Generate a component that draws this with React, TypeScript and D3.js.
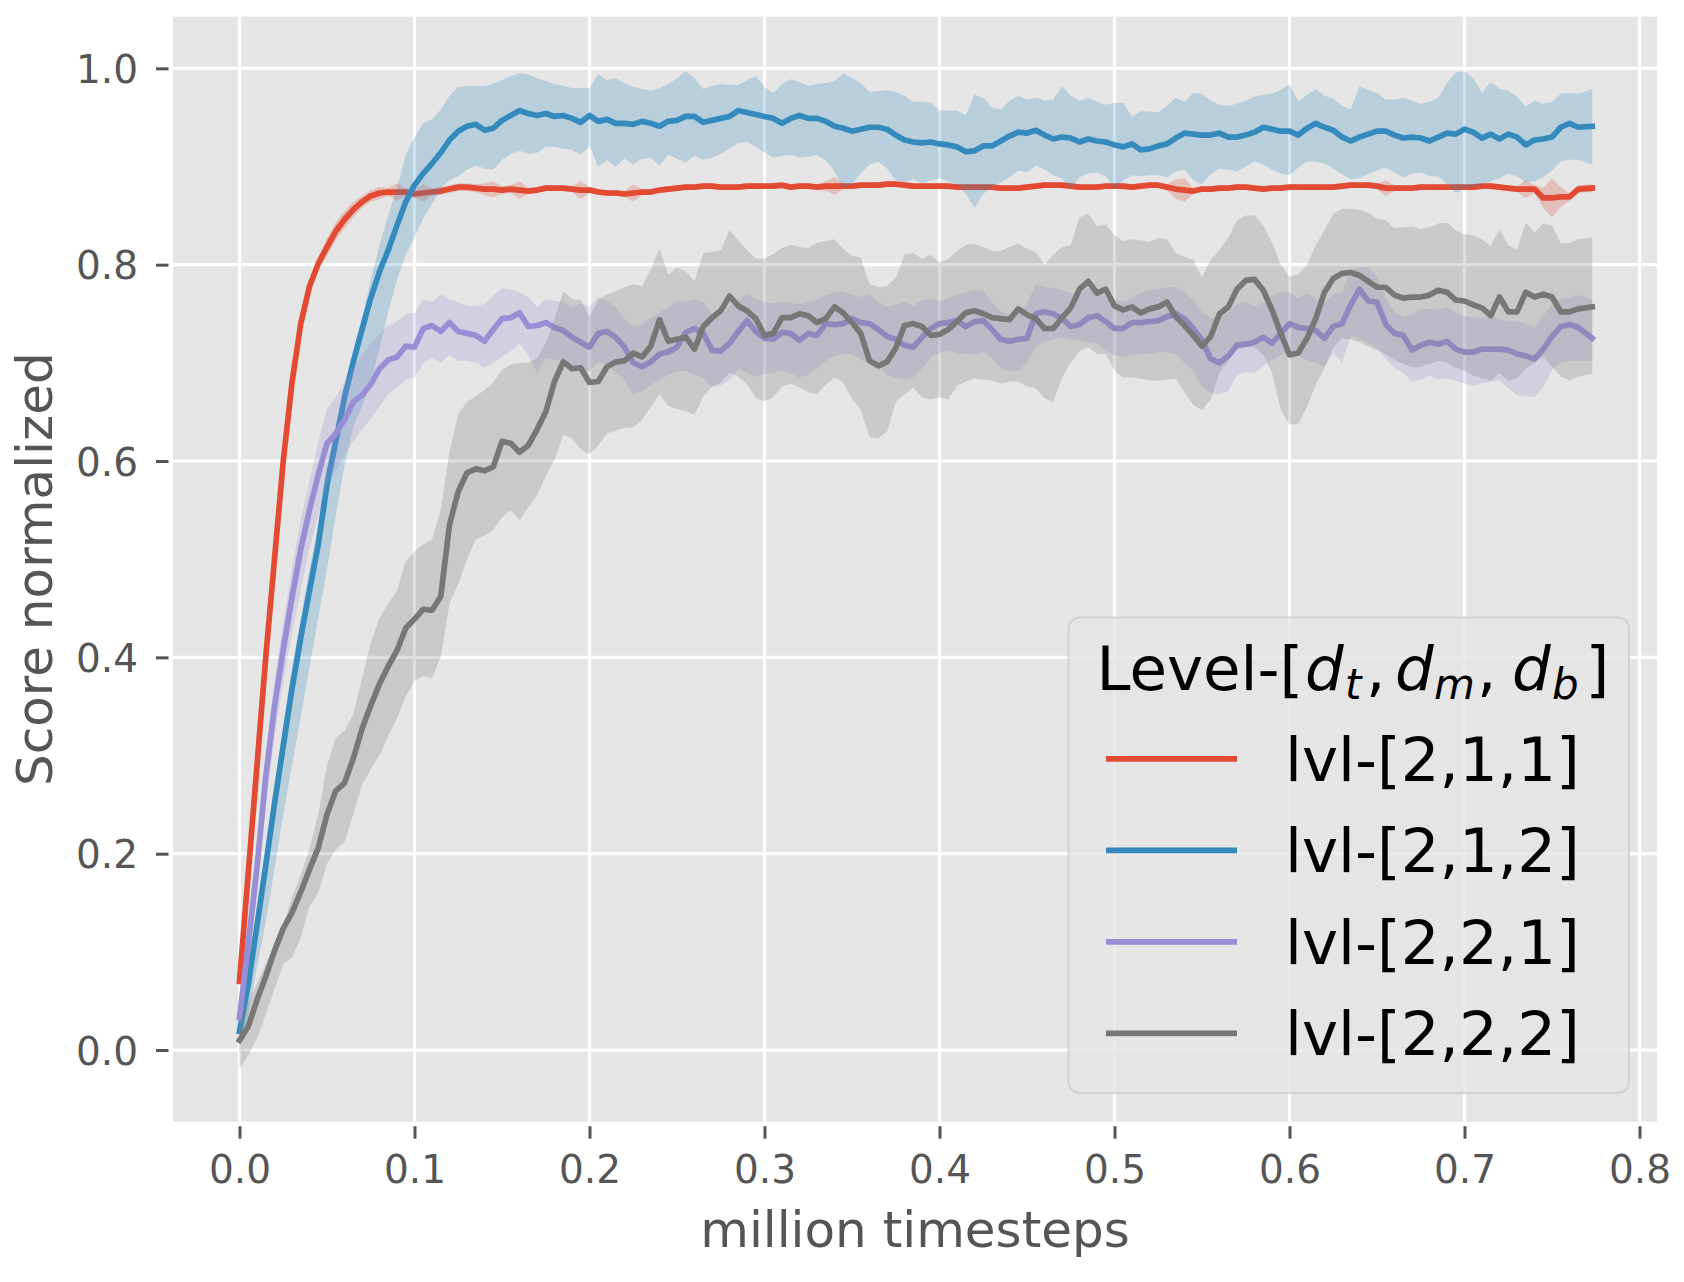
import React, { useEffect, useRef } from 'react';
import * as d3 from 'd3';

// sampling grid: every 0.005 million timesteps, last eval at 0.773
const STEP = 0.005;
const N_POINTS = 155;
const timesteps = d3.range(N_POINTS).map(i => (i === N_POINTS - 1 ? 0.773 : i * STEP));

const xTicks = [0, 0.1, 0.2, 0.3, 0.4, 0.5, 0.6, 0.7, 0.8];
const yTicks = [0, 0.2, 0.4, 0.6, 0.8, 1.0];

const seriesNames = ['lvl-[2,1,1]', 'lvl-[2,1,2]', 'lvl-[2,2,1]', 'lvl-[2,2,2]'];
const seriesColors = ['#E24A33', '#348ABD', '#988ED5', '#777777'];

// lvl-[2,1,1]
const redMean = [
  0.070, 0.180, 0.290, 0.400, 0.500, 0.600, 0.680, 0.740, 0.778, 0.801,
  0.818, 0.834, 0.846, 0.856, 0.864, 0.870, 0.873, 0.874, 0.874, 0.874,
  0.872, 0.873, 0.874, 0.875, 0.877, 0.879, 0.879, 0.878, 0.877, 0.877,
  0.876, 0.877, 0.876, 0.875, 0.876, 0.878, 0.878, 0.878, 0.877, 0.876,
  0.876, 0.874, 0.873, 0.873, 0.872, 0.873, 0.874, 0.874, 0.876, 0.877,
  0.878, 0.879, 0.879, 0.880, 0.880, 0.879, 0.879, 0.879, 0.880, 0.880,
  0.880, 0.880, 0.881, 0.879, 0.880, 0.880, 0.879, 0.880, 0.880, 0.880,
  0.880, 0.881, 0.881, 0.881, 0.882, 0.882, 0.881, 0.880, 0.880, 0.880,
  0.880, 0.880, 0.879, 0.879, 0.879, 0.879, 0.879, 0.878, 0.878, 0.878,
  0.879, 0.880, 0.881, 0.881, 0.881, 0.880, 0.879, 0.879, 0.879, 0.880,
  0.880, 0.880, 0.879, 0.880, 0.881, 0.881, 0.879, 0.877, 0.876, 0.875,
  0.877, 0.877, 0.878, 0.878, 0.879, 0.879, 0.878, 0.877, 0.878, 0.878,
  0.879, 0.879, 0.879, 0.879, 0.879, 0.879, 0.880, 0.881, 0.881, 0.881,
  0.880, 0.878, 0.878, 0.878, 0.878, 0.879, 0.879, 0.879, 0.879, 0.879,
  0.879, 0.879, 0.880, 0.880, 0.879, 0.878, 0.877, 0.877, 0.877, 0.868,
  0.868, 0.869, 0.869, 0.877, 0.878,
];
const redStd = [
  0.004, 0.004, 0.004, 0.004, 0.006, 0.006, 0.006, 0.006, 0.006, 0.006,
  0.009, 0.009, 0.009, 0.008, 0.006, 0.006, 0.006, 0.004, 0.009, 0.004,
  0.004, 0.009, 0.004, 0.004, 0.004, 0.004, 0.004, 0.004, 0.006, 0.008,
  0.004, 0.004, 0.009, 0.003, 0.003, 0.003, 0.003, 0.003, 0.003, 0.009,
  0.003, 0.003, 0.003, 0.003, 0.003, 0.009, 0.003, 0.003, 0.003, 0.003,
  0.003, 0.003, 0.003, 0.003, 0.003, 0.003, 0.003, 0.003, 0.003, 0.003,
  0.003, 0.003, 0.003, 0.003, 0.003, 0.003, 0.003, 0.005, 0.009, 0.003,
  0.003, 0.003, 0.003, 0.003, 0.003, 0.003, 0.003, 0.003, 0.003, 0.003,
  0.003, 0.003, 0.003, 0.003, 0.003, 0.003, 0.003, 0.003, 0.003, 0.003,
  0.003, 0.003, 0.003, 0.003, 0.003, 0.003, 0.003, 0.003, 0.003, 0.003,
  0.003, 0.003, 0.003, 0.003, 0.003, 0.003, 0.003, 0.010, 0.012, 0.003,
  0.003, 0.003, 0.003, 0.003, 0.003, 0.003, 0.003, 0.003, 0.003, 0.003,
  0.003, 0.003, 0.003, 0.003, 0.003, 0.003, 0.003, 0.003, 0.003, 0.003,
  0.003, 0.008, 0.003, 0.003, 0.003, 0.003, 0.003, 0.003, 0.003, 0.003,
  0.003, 0.003, 0.003, 0.003, 0.003, 0.003, 0.003, 0.009, 0.004, 0.010,
  0.020, 0.010, 0.004, 0.004, 0.004,
];

// lvl-[2,1,2]
const blueMean = [
  0.019, 0.067, 0.127, 0.188, 0.251, 0.310, 0.368, 0.420, 0.468, 0.515,
  0.576, 0.620, 0.665, 0.701, 0.734, 0.766, 0.793, 0.815, 0.840, 0.864,
  0.881, 0.893, 0.903, 0.914, 0.927, 0.936, 0.941, 0.943, 0.937, 0.939,
  0.947, 0.952, 0.957, 0.954, 0.952, 0.954, 0.951, 0.952, 0.949, 0.945,
  0.952, 0.946, 0.948, 0.944, 0.944, 0.943, 0.946, 0.944, 0.941, 0.946,
  0.947, 0.951, 0.951, 0.945, 0.947, 0.949, 0.951, 0.957, 0.955, 0.953,
  0.951, 0.949, 0.944, 0.949, 0.952, 0.949, 0.949, 0.946, 0.941, 0.939,
  0.936, 0.938, 0.940, 0.940, 0.938, 0.932, 0.927, 0.925, 0.924, 0.925,
  0.923, 0.922, 0.920, 0.915, 0.916, 0.921, 0.921, 0.926, 0.931, 0.935,
  0.934, 0.937, 0.932, 0.928, 0.930, 0.929, 0.925, 0.928, 0.926, 0.925,
  0.922, 0.920, 0.923, 0.917, 0.918, 0.921, 0.923, 0.929, 0.934, 0.933,
  0.932, 0.932, 0.934, 0.930, 0.930, 0.932, 0.935, 0.940, 0.938, 0.936,
  0.936, 0.932, 0.939, 0.944, 0.940, 0.937, 0.930, 0.926, 0.930, 0.933,
  0.936, 0.936, 0.932, 0.929, 0.930, 0.929, 0.926, 0.930, 0.934, 0.933,
  0.938, 0.935, 0.929, 0.933, 0.928, 0.933, 0.930, 0.922, 0.927, 0.928,
  0.930, 0.940, 0.944, 0.940, 0.941,
];
const blueLow = [
  0.000, 0.035, 0.085, 0.130, 0.185, 0.240, 0.290, 0.340, 0.390, 0.440,
  0.490, 0.545, 0.595, 0.635, 0.655, 0.680, 0.715, 0.752, 0.785, 0.810,
  0.828, 0.847, 0.862, 0.878, 0.886, 0.890, 0.897, 0.901, 0.898, 0.897,
  0.907, 0.913, 0.916, 0.913, 0.914, 0.920, 0.920, 0.918, 0.917, 0.912,
  0.921, 0.900, 0.906, 0.900, 0.908, 0.902, 0.908, 0.909, 0.901, 0.912,
  0.908, 0.904, 0.911, 0.907, 0.909, 0.913, 0.918, 0.924, 0.925, 0.920,
  0.914, 0.909, 0.911, 0.912, 0.909, 0.910, 0.912, 0.906, 0.895, 0.878,
  0.882, 0.893, 0.902, 0.905, 0.898, 0.886, 0.884, 0.887, 0.883, 0.886,
  0.888, 0.885, 0.882, 0.872, 0.858, 0.872, 0.879, 0.884, 0.889, 0.896,
  0.894, 0.901, 0.897, 0.891, 0.888, 0.877, 0.889, 0.893, 0.894, 0.890,
  0.877, 0.886, 0.891, 0.890, 0.891, 0.891, 0.889, 0.895, 0.897, 0.886,
  0.882, 0.892, 0.898, 0.897, 0.895, 0.900, 0.905, 0.902, 0.897, 0.893,
  0.891, 0.899, 0.905, 0.905, 0.903, 0.898, 0.892, 0.887, 0.888, 0.892,
  0.896, 0.899, 0.894, 0.889, 0.893, 0.894, 0.890, 0.890, 0.882, 0.873,
  0.877, 0.879, 0.882, 0.885, 0.888, 0.893, 0.890, 0.884, 0.885, 0.889,
  0.896, 0.905, 0.907, 0.907, 0.902,
];
const blueHigh = [
  0.040, 0.085, 0.145, 0.205, 0.270, 0.330, 0.390, 0.440, 0.490, 0.535,
  0.595, 0.630, 0.675, 0.710, 0.745, 0.785, 0.820, 0.850, 0.878, 0.912,
  0.930, 0.944, 0.948, 0.958, 0.972, 0.981, 0.982, 0.982, 0.982, 0.984,
  0.988, 0.992, 0.995, 0.994, 0.990, 0.987, 0.984, 0.982, 0.980, 0.980,
  0.980, 0.994, 0.988, 0.990, 0.985, 0.981, 0.979, 0.977, 0.980, 0.984,
  0.990, 0.997, 0.990, 0.979, 0.982, 0.984, 0.983, 0.983, 0.988, 0.992,
  0.981, 0.975, 0.984, 0.989, 0.986, 0.982, 0.984, 0.985, 0.987, 0.995,
  0.990, 0.985, 0.976, 0.977, 0.978, 0.976, 0.972, 0.966, 0.966, 0.965,
  0.957, 0.957, 0.957, 0.952, 0.973, 0.970, 0.960, 0.958, 0.967, 0.972,
  0.968, 0.970, 0.967, 0.968, 0.982, 0.972, 0.967, 0.970, 0.966, 0.963,
  0.965, 0.965, 0.951, 0.956, 0.956, 0.955, 0.962, 0.970, 0.966, 0.975,
  0.974, 0.967, 0.963, 0.962, 0.964, 0.967, 0.971, 0.973, 0.974, 0.978,
  0.984, 0.966, 0.973, 0.979, 0.972, 0.969, 0.962, 0.958, 0.982, 0.978,
  0.975, 0.968, 0.968, 0.970, 0.967, 0.964, 0.966, 0.970, 0.985, 0.996,
  0.997, 0.990, 0.975, 0.986, 0.979, 0.977, 0.971, 0.961, 0.967, 0.964,
  0.966, 0.974, 0.975, 0.974, 0.979,
];

// lvl-[2,2,1]
const purpleMean = [
  0.033, 0.108, 0.186, 0.278, 0.350, 0.408, 0.461, 0.510, 0.550, 0.586,
  0.618, 0.628, 0.642, 0.660, 0.667, 0.678, 0.694, 0.703, 0.706, 0.717,
  0.716, 0.735, 0.738, 0.732, 0.741, 0.732, 0.730, 0.728, 0.722, 0.734,
  0.745, 0.746, 0.751, 0.737, 0.738, 0.741, 0.736, 0.733, 0.726, 0.721,
  0.716, 0.730, 0.732, 0.726, 0.716, 0.700, 0.696, 0.701, 0.709, 0.711,
  0.716, 0.731, 0.735, 0.730, 0.713, 0.712, 0.720, 0.732, 0.743, 0.732,
  0.725, 0.724, 0.731, 0.730, 0.723, 0.730, 0.728, 0.740, 0.739, 0.740,
  0.745, 0.741, 0.740, 0.734, 0.727, 0.724, 0.718, 0.716, 0.726, 0.735,
  0.740, 0.741, 0.743, 0.737, 0.742, 0.743, 0.734, 0.724, 0.722, 0.724,
  0.725, 0.750, 0.752, 0.750, 0.745, 0.737, 0.739, 0.746, 0.748, 0.742,
  0.735, 0.735, 0.741, 0.741, 0.742, 0.743, 0.747, 0.750, 0.745, 0.735,
  0.723, 0.704, 0.700, 0.707, 0.718, 0.719, 0.721, 0.726, 0.720, 0.730,
  0.740, 0.736, 0.735, 0.733, 0.725, 0.737, 0.740, 0.759, 0.775, 0.763,
  0.762, 0.739, 0.730, 0.728, 0.713, 0.718, 0.721, 0.719, 0.722, 0.714,
  0.711, 0.711, 0.714, 0.714, 0.714, 0.713, 0.709, 0.707, 0.704, 0.714,
  0.727, 0.737, 0.739, 0.736, 0.725,
];
const purpleLow = [
  0.010, 0.085, 0.160, 0.250, 0.320, 0.375, 0.425, 0.470, 0.510, 0.545,
  0.576, 0.590, 0.605, 0.620, 0.632, 0.643, 0.655, 0.668, 0.675, 0.683,
  0.685, 0.700, 0.705, 0.700, 0.708, 0.702, 0.702, 0.700, 0.695, 0.700,
  0.706, 0.712, 0.720, 0.708, 0.690, 0.705, 0.703, 0.702, 0.697, 0.692,
  0.692, 0.701, 0.698, 0.691, 0.682, 0.668, 0.671, 0.677, 0.683, 0.688,
  0.691, 0.692, 0.688, 0.684, 0.675, 0.677, 0.683, 0.694, 0.690, 0.686,
  0.689, 0.690, 0.692, 0.689, 0.685, 0.688, 0.695, 0.702, 0.707, 0.709,
  0.709, 0.704, 0.700, 0.697, 0.688, 0.685, 0.683, 0.685, 0.694, 0.706,
  0.710, 0.712, 0.710, 0.709, 0.709, 0.711, 0.705, 0.695, 0.691, 0.692,
  0.700, 0.716, 0.722, 0.724, 0.726, 0.724, 0.723, 0.721, 0.720, 0.712,
  0.708, 0.706, 0.708, 0.709, 0.709, 0.711, 0.711, 0.709, 0.700, 0.692,
  0.675, 0.669, 0.668, 0.671, 0.688, 0.691, 0.690, 0.697, 0.703, 0.708,
  0.712, 0.707, 0.703, 0.700, 0.696, 0.710, 0.700, 0.728, 0.725, 0.720,
  0.715, 0.704, 0.695, 0.690, 0.681, 0.683, 0.687, 0.683, 0.684, 0.682,
  0.679, 0.677, 0.679, 0.681, 0.682, 0.674, 0.667, 0.666, 0.665, 0.675,
  0.693, 0.700, 0.702, 0.702, 0.702,
];
const purpleHigh = [
  0.050, 0.130, 0.210, 0.300, 0.375, 0.435, 0.490, 0.540, 0.580, 0.620,
  0.653, 0.665, 0.680, 0.695, 0.708, 0.720, 0.730, 0.738, 0.742, 0.750,
  0.751, 0.765, 0.762, 0.770, 0.765, 0.762, 0.758, 0.758, 0.760, 0.768,
  0.776, 0.775, 0.772, 0.767, 0.757, 0.765, 0.763, 0.762, 0.756, 0.761,
  0.757, 0.767, 0.763, 0.757, 0.745, 0.737, 0.739, 0.746, 0.751, 0.757,
  0.763, 0.762, 0.765, 0.762, 0.750, 0.747, 0.758, 0.765, 0.770, 0.765,
  0.762, 0.761, 0.762, 0.761, 0.760, 0.762, 0.764, 0.769, 0.772, 0.773,
  0.770, 0.767, 0.770, 0.762, 0.757, 0.759, 0.762, 0.758, 0.764, 0.765,
  0.763, 0.765, 0.770, 0.772, 0.774, 0.774, 0.762, 0.752, 0.750, 0.750,
  0.760, 0.780, 0.778, 0.776, 0.774, 0.771, 0.771, 0.776, 0.774, 0.768,
  0.764, 0.763, 0.766, 0.772, 0.774, 0.775, 0.777, 0.777, 0.772, 0.764,
  0.752, 0.746, 0.746, 0.752, 0.760, 0.762, 0.758, 0.761, 0.768, 0.773,
  0.772, 0.766, 0.771, 0.765, 0.762, 0.770, 0.772, 0.795, 0.797, 0.797,
  0.788, 0.767, 0.752, 0.747, 0.749, 0.755, 0.755, 0.754, 0.757, 0.751,
  0.748, 0.746, 0.746, 0.746, 0.745, 0.743, 0.742, 0.740, 0.736, 0.748,
  0.760, 0.765, 0.767, 0.769, 0.764,
];

// lvl-[2,2,2]
const grayMean = [
  0.010, 0.024, 0.051, 0.075, 0.101, 0.124, 0.140, 0.161, 0.184, 0.206,
  0.240, 0.264, 0.272, 0.297, 0.327, 0.351, 0.373, 0.391, 0.407, 0.430,
  0.439, 0.449, 0.448, 0.462, 0.535, 0.569, 0.588, 0.592, 0.590, 0.594,
  0.620, 0.618, 0.609, 0.616, 0.632, 0.650, 0.681, 0.701, 0.694, 0.695,
  0.680, 0.681, 0.696, 0.701, 0.702, 0.710, 0.706, 0.717, 0.744, 0.722,
  0.724, 0.726, 0.714, 0.737, 0.746, 0.753, 0.768, 0.758, 0.753, 0.745,
  0.728, 0.730, 0.746, 0.746, 0.750, 0.748, 0.741, 0.745, 0.757, 0.751,
  0.741, 0.730, 0.702, 0.697, 0.701, 0.715, 0.738, 0.740, 0.737, 0.728,
  0.729, 0.734, 0.742, 0.751, 0.753, 0.750, 0.746, 0.745, 0.744, 0.755,
  0.749, 0.745, 0.735, 0.735, 0.746, 0.756, 0.775, 0.783, 0.771, 0.775,
  0.758, 0.754, 0.757, 0.751, 0.755, 0.757, 0.762, 0.747, 0.738, 0.728,
  0.717, 0.727, 0.750, 0.757, 0.775, 0.784, 0.785, 0.774, 0.754, 0.730,
  0.708, 0.710, 0.725, 0.745, 0.772, 0.786, 0.791, 0.792, 0.789, 0.783,
  0.777, 0.777, 0.769, 0.766, 0.767, 0.767, 0.769, 0.774, 0.772, 0.764,
  0.763, 0.759, 0.756, 0.748, 0.767, 0.752, 0.752, 0.772, 0.767, 0.770,
  0.767, 0.752, 0.752, 0.755, 0.757,
];
const grayLow = [
  -0.019, -0.005, 0.012, 0.036, 0.062, 0.088, 0.094, 0.115, 0.146, 0.160,
  0.190, 0.204, 0.212, 0.240, 0.270, 0.286, 0.300, 0.320, 0.338, 0.360,
  0.376, 0.381, 0.379, 0.400, 0.455, 0.475, 0.500, 0.520, 0.524, 0.530,
  0.543, 0.550, 0.540, 0.553, 0.565, 0.585, 0.601, 0.627, 0.623, 0.612,
  0.607, 0.616, 0.628, 0.631, 0.634, 0.634, 0.642, 0.655, 0.668, 0.656,
  0.653, 0.651, 0.647, 0.666, 0.676, 0.680, 0.690, 0.686, 0.678, 0.664,
  0.661, 0.665, 0.676, 0.679, 0.675, 0.670, 0.668, 0.678, 0.685, 0.680,
  0.664, 0.652, 0.625, 0.623, 0.630, 0.660, 0.668, 0.675, 0.665, 0.663,
  0.665, 0.663, 0.677, 0.681, 0.684, 0.683, 0.682, 0.679, 0.681, 0.681,
  0.676, 0.674, 0.664, 0.660, 0.685, 0.700, 0.712, 0.716, 0.709, 0.709,
  0.692, 0.685, 0.685, 0.684, 0.682, 0.682, 0.683, 0.684, 0.670, 0.657,
  0.652, 0.663, 0.690, 0.702, 0.714, 0.716, 0.716, 0.708, 0.690, 0.652,
  0.637, 0.638, 0.655, 0.678, 0.695, 0.716, 0.725, 0.724, 0.721, 0.717,
  0.713, 0.709, 0.703, 0.699, 0.696, 0.696, 0.699, 0.702, 0.700, 0.695,
  0.692, 0.687, 0.684, 0.682, 0.690, 0.682, 0.684, 0.694, 0.700, 0.706,
  0.696, 0.686, 0.682, 0.686, 0.689,
];
const grayHigh = [
  0.030, 0.048, 0.068, 0.088, 0.108, 0.128, 0.155, 0.178, 0.205, 0.240,
  0.290, 0.318, 0.325, 0.342, 0.378, 0.415, 0.440, 0.455, 0.468, 0.498,
  0.508, 0.515, 0.520, 0.550, 0.610, 0.648, 0.660, 0.666, 0.672, 0.680,
  0.693, 0.698, 0.700, 0.700, 0.705, 0.720, 0.745, 0.773, 0.765, 0.764,
  0.747, 0.764, 0.770, 0.773, 0.777, 0.780, 0.778, 0.795, 0.816, 0.790,
  0.797, 0.793, 0.783, 0.812, 0.813, 0.815, 0.835, 0.825, 0.815, 0.806,
  0.806, 0.811, 0.817, 0.820, 0.818, 0.817, 0.822, 0.824, 0.826, 0.816,
  0.809, 0.807, 0.780, 0.777, 0.778, 0.787, 0.810, 0.812, 0.806, 0.810,
  0.802, 0.806, 0.814, 0.820, 0.821, 0.818, 0.814, 0.814, 0.818, 0.822,
  0.816, 0.813, 0.800, 0.810, 0.818, 0.820, 0.848, 0.852, 0.839, 0.841,
  0.830, 0.824, 0.826, 0.825, 0.823, 0.827, 0.826, 0.812, 0.808, 0.805,
  0.787, 0.805, 0.815, 0.828, 0.845, 0.850, 0.850, 0.840, 0.822, 0.800,
  0.788, 0.790, 0.800, 0.820, 0.835, 0.852, 0.857, 0.857, 0.856, 0.853,
  0.847, 0.845, 0.837, 0.838, 0.839, 0.836, 0.838, 0.842, 0.843, 0.835,
  0.831, 0.830, 0.826, 0.819, 0.836, 0.820, 0.815, 0.843, 0.833, 0.842,
  0.840, 0.822, 0.822, 0.826, 0.828,
];

interface Series {
  name: string;
  color: string;
  mean: number[];
  low: number[];
  high: number[];
}

const series: Series[] = [
  { name: seriesNames[0], color: seriesColors[0], mean: redMean,
    low: redMean.map((m, i) => m - redStd[i]), high: redMean.map((m, i) => m + redStd[i]) },
  { name: seriesNames[1], color: seriesColors[1], mean: blueMean, low: blueLow, high: blueHigh },
  { name: seriesNames[2], color: seriesColors[2], mean: purpleMean, low: purpleLow, high: purpleHigh },
  { name: seriesNames[3], color: seriesColors[3], mean: grayMean, low: grayLow, high: grayHigh },
];

const FONT = '"DejaVu Sans", Verdana, sans-serif';
const WIDTH = 1684;
const HEIGHT = 1282;

export default function App() {
  const svgRef = useRef<SVGSVGElement>(null);

  useEffect(() => {
    document.body.style.margin = '0';
    if (!svgRef.current) return;
    const svg = d3.select(svgRef.current);
    svg.selectAll('*').remove();

    const plot = { left: 173, right: 1657, top: 16.7, bottom: 1121.7 };

    const x = d3.scaleLinear().domain([-0.038, 0.81]).range([plot.left, plot.right]);
    const y = d3.scaleLinear().domain([-0.073, 1.0526]).range([plot.bottom, plot.top]);

    svg.append('rect').attr('width', WIDTH).attr('height', HEIGHT).attr('fill', '#ffffff');

    // axes background
    svg.append('rect')
      .attr('x', plot.left).attr('y', plot.top)
      .attr('width', plot.right - plot.left).attr('height', plot.bottom - plot.top)
      .attr('fill', '#E5E5E5');

    // grid
    const grid = svg.append('g').attr('stroke', '#ffffff').attr('stroke-width', 3.2);
    grid.selectAll('.vgrid').data(xTicks).enter().append('line')
      .attr('x1', d => x(d)).attr('x2', d => x(d))
      .attr('y1', plot.top).attr('y2', plot.bottom);
    grid.selectAll('.hgrid').data(yTicks).enter().append('line')
      .attr('x1', plot.left).attr('x2', plot.right)
      .attr('y1', d => y(d)).attr('y2', d => y(d));

    // bands + mean lines
    const area = d3.area<number>()
      .x((_, i) => x(timesteps[i]))
      .y0(d => y(d));
    const line = d3.line<number>()
      .x((_, i) => x(timesteps[i]))
      .y(d => y(d));

    series.forEach(s => {
      svg.append('path')
        .datum(s.low)
        .attr('d', area.y1((_, i) => y(s.high[i])))
        .attr('fill', s.color)
        .attr('fill-opacity', 0.25)
        .attr('stroke', 'none');
      svg.append('path')
        .datum(s.mean)
        .attr('d', line)
        .attr('fill', 'none')
        .attr('stroke', s.color)
        .attr('stroke-width', 5.7)
        .attr('stroke-linejoin', 'round')
        .attr('stroke-linecap', 'square');
    });

    // x axis
    const xAxisG = svg.append('g')
      .attr('transform', `translate(0,${plot.bottom + 4.5})`)
      .call(d3.axisBottom(x).tickValues(xTicks).tickSize(12.5).tickFormat(d3.format('.1f')));
    xAxisG.select('.domain').remove();
    xAxisG.attr('font-family', FONT).attr('font-size', 39);
    xAxisG.selectAll('.tick line').attr('stroke', '#555555').attr('stroke-width', 3);
    xAxisG.selectAll('.tick text').attr('fill', '#555555').attr('y', 57).attr('dy', null);

    // y axis
    const yAxisG = svg.append('g')
      .attr('transform', `translate(${plot.left - 4.5},0)`)
      .call(d3.axisLeft(y).tickValues(yTicks).tickSize(12.5).tickFormat(d3.format('.1f')));
    yAxisG.select('.domain').remove();
    yAxisG.attr('font-family', FONT).attr('font-size', 39);
    yAxisG.selectAll('.tick line').attr('stroke', '#555555').attr('stroke-width', 3);
    yAxisG.selectAll('.tick text').attr('fill', '#555555').attr('x', -30.5).attr('dy', '0.36em');

    // axis labels
    svg.append('text')
      .attr('x', (plot.left + plot.right) / 2).attr('y', 1247)
      .attr('text-anchor', 'middle')
      .attr('font-family', FONT).attr('font-size', 50).attr('fill', '#555555')
      .text('million timesteps');
    svg.append('text')
      .attr('transform', `translate(52,${(plot.top + plot.bottom) / 2}) rotate(-90)`)
      .attr('text-anchor', 'middle')
      .attr('font-family', FONT).attr('font-size', 50).attr('fill', '#555555')
      .text('Score normalized');

    // legend
    const legend = svg.append('g');
    legend.append('rect')
      .attr('x', 1068.6).attr('y', 617.5)
      .attr('width', 1629 - 1068.6).attr('height', 1093 - 617.5)
      .attr('rx', 11).attr('ry', 11)
      .attr('fill', '#E5E5E5').attr('fill-opacity', 0.8)
      .attr('stroke', '#cccccc').attr('stroke-opacity', 0.8).attr('stroke-width', 2);

    // title: Level-[d_t, d_m, d_b] (mathtext-like layout)
    const titleBase = 690;
    const title = legend.append('text')
      .attr('y', titleBase)
      .attr('font-family', FONT).attr('font-size', 61).attr('fill', '#000000');
    title.append('tspan').attr('x', 1096.5).text('Level-[');
    const mathParts = [
      { d: 1305, sub: 't', subX: 1345, comma: 1366 },
      { d: 1395, sub: 'm', subX: 1434, comma: 1477 },
      { d: 1512, sub: 'b', subX: 1552, comma: null },
    ];
    mathParts.forEach(p => {
      title.append('tspan').attr('x', p.d).attr('y', titleBase).attr('font-style', 'italic').text('d');
      title.append('tspan').attr('x', p.subX).attr('y', titleBase + 8.5)
        .attr('font-style', 'italic').attr('font-size', 42).text(p.sub);
      if (p.comma !== null) {
        title.append('tspan').attr('x', p.comma).attr('y', titleBase).text(',');
      }
    });
    title.append('tspan').attr('x', 1585.5).attr('y', titleBase).text(']');

    const rowY = (i: number) => 758.8 + i * 91.5;
    series.forEach((s, i) => {
      legend.append('line')
        .attr('x1', 1106).attr('x2', 1237)
        .attr('y1', rowY(i)).attr('y2', rowY(i))
        .attr('stroke', s.color).attr('stroke-width', 5.7);
      legend.append('text')
        .attr('x', 1285).attr('y', rowY(i) + 21.7)
        .attr('font-family', FONT).attr('font-size', 61).attr('fill', '#000000')
        .text(s.name);
    });
  }, []);

  return (
    <svg
      ref={svgRef}
      width={WIDTH}
      height={HEIGHT}
      style={{ display: 'block', position: 'absolute', left: 0, top: 0 }}
    />
  );
}
